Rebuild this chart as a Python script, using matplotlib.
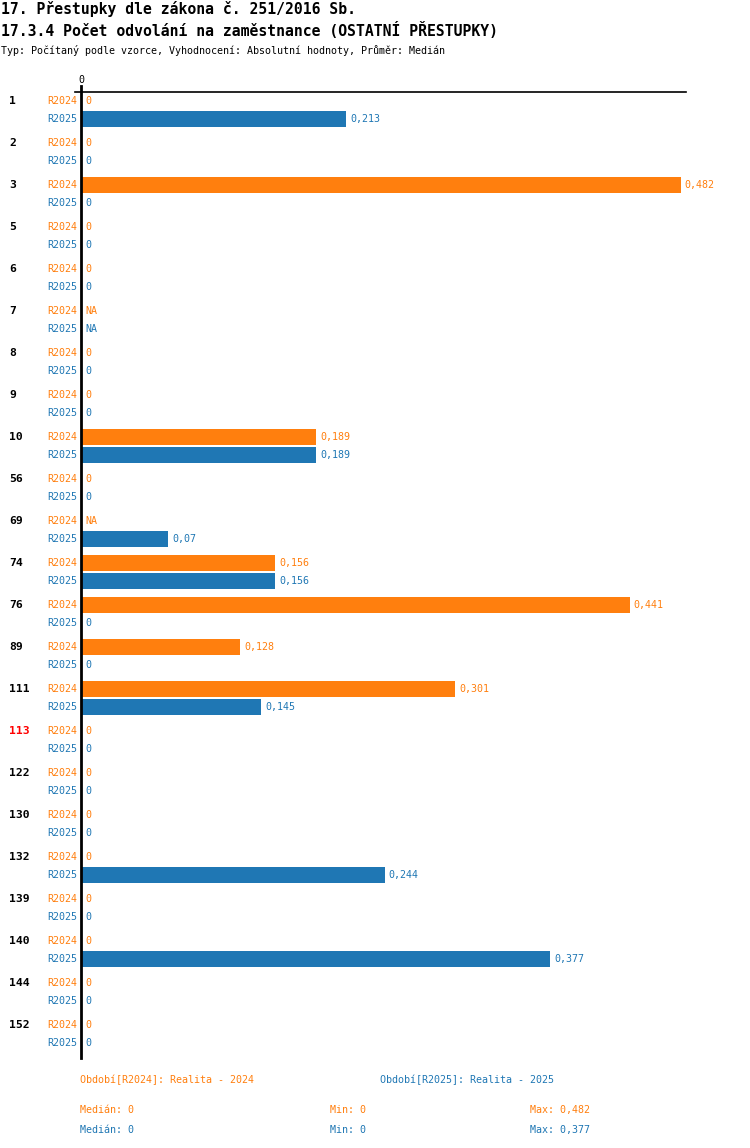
import matplotlib
matplotlib.use("Agg")
import matplotlib.pyplot as plt
from matplotlib.lines import Line2D

categories = ["1", "2", "3", "5", "6", "7", "8", "9", "10", "56", "69", "74", "76",
              "89", "111", "113", "122", "130", "132", "139", "140", "144", "152"]
r2024 = [0, 0, 0.482, 0, 0, None, 0, 0, 0.189, 0, None, 0.156, 0.441,
         0.128, 0.301, 0, 0, 0, 0, 0, 0, 0, 0]
r2025 = [0.213, 0, 0, 0, 0, None, 0, 0, 0.189, 0, 0.07, 0.156, 0,
         0, 0.145, 0, 0, 0, 0.244, 0, 0.377, 0, 0]
series_names = ["R2024", "R2025"]
highlight = {"113"}

ORANGE = "#ff7f0e"
BLUE = "#1f77b4"
W, H = 750, 1148
FONT = "DejaVu Sans Mono"

fig = plt.figure(figsize=(W / 100, H / 100), dpi=100)

def fx(px):
    return px / W

def fy(py):
    return 1 - py / H

ax_top, ax_bot, ax_left, ax_right = 92, 1058, 81, 686
scale = 1244.0  # px per unit
ax = fig.add_axes([fx(ax_left), fy(ax_bot), fx(ax_right) - fx(ax_left), (ax_bot - ax_top) / H])
ax.set_xlim(0, (ax_right - ax_left) / scale)
ax.set_ylim(ax_bot - ax_top, 0)
ax.axis("off")

def fmt(v):
    if v is None:
        return "NA"
    return ("%g" % v).replace(".", ",")

bar_h = 16
for i, cat in enumerate(categories):
    base = 9 + 42 * i
    for j, (vals, col) in enumerate(((r2024, ORANGE), (r2025, BLUE))):
        y = base + 18 * j
        v = vals[i]
        val = 0 if v is None else v
        if val > 0:
            ax.barh(y, val, height=bar_h, color=col, left=0)
        ax.annotate(fmt(v), (val, y), xytext=(3.0, 0), textcoords="offset points",
                    ha="left", va="center", fontsize=7.2, color=col, family=FONT,
                    annotation_clip=False)
        fig.text(fx(77), fy(ax_top + y), series_names[j], ha="right", va="center",
                 fontsize=7.2, color=col, family=FONT)
    fig.text(fx(9), fy(ax_top + base), cat, ha="left", va="center", fontsize=8.2,
             fontweight="bold", color="red" if cat in highlight else "black", family=FONT)

# axis lines
fig.add_artist(Line2D([fx(75), fx(686)], [fy(92), fy(92)], color="black", lw=1.2))
fig.add_artist(Line2D([fx(81), fx(81)], [fy(86), fy(1058)], color="black", lw=2))
fig.text(fx(81), fy(80), "0", ha="center", va="center", fontsize=7.2, family=FONT)

# titles
fig.text(fx(1), fy(9), "17. Přestupky dle zákona č. 251/2016 Sb.", ha="left", va="center",
         fontsize=10.6, family=FONT, fontweight="bold")
fig.text(fx(1), fy(30), "17.3.4 Počet odvolání na zaměstnance (OSTATNÍ PŘESTUPKY)", ha="left",
         va="center", fontsize=10.6, family=FONT, fontweight="bold")
fig.text(fx(1), fy(50), "Typ: Počítaný podle vzorce, Vyhodnocení: Absolutní hodnoty, Průměr: Medián",
         ha="left", va="center", fontsize=7.2, family=FONT)

# footer
def stats(vals):
    nums = [v for v in vals if v is not None]
    s = sorted(nums)
    n = len(s)
    med = s[n // 2] if n % 2 else (s[n // 2 - 1] + s[n // 2]) / 2
    return med, min(nums), max(nums)

fig.text(fx(80), fy(1080), "Období[R2024]: Realita - 2024", ha="left", va="center",
         fontsize=7.2, color=ORANGE, family=FONT)
fig.text(fx(380), fy(1080), "Období[R2025]: Realita - 2025", ha="left", va="center",
         fontsize=7.2, color=BLUE, family=FONT)
for k, (vals, col) in enumerate(((r2024, ORANGE), (r2025, BLUE))):
    med, mn, mx = stats(vals)
    yy = fy(1110 + 20 * k)
    fig.text(fx(80), yy, "Medián: " + fmt(med), ha="left", va="center", fontsize=7.2, color=col, family=FONT)
    fig.text(fx(330), yy, "Min: " + fmt(mn), ha="left", va="center", fontsize=7.2, color=col, family=FONT)
    fig.text(fx(530), yy, "Max: " + fmt(mx), ha="left", va="center", fontsize=7.2, color=col, family=FONT)

fig.savefig("out.png", dpi=100)
